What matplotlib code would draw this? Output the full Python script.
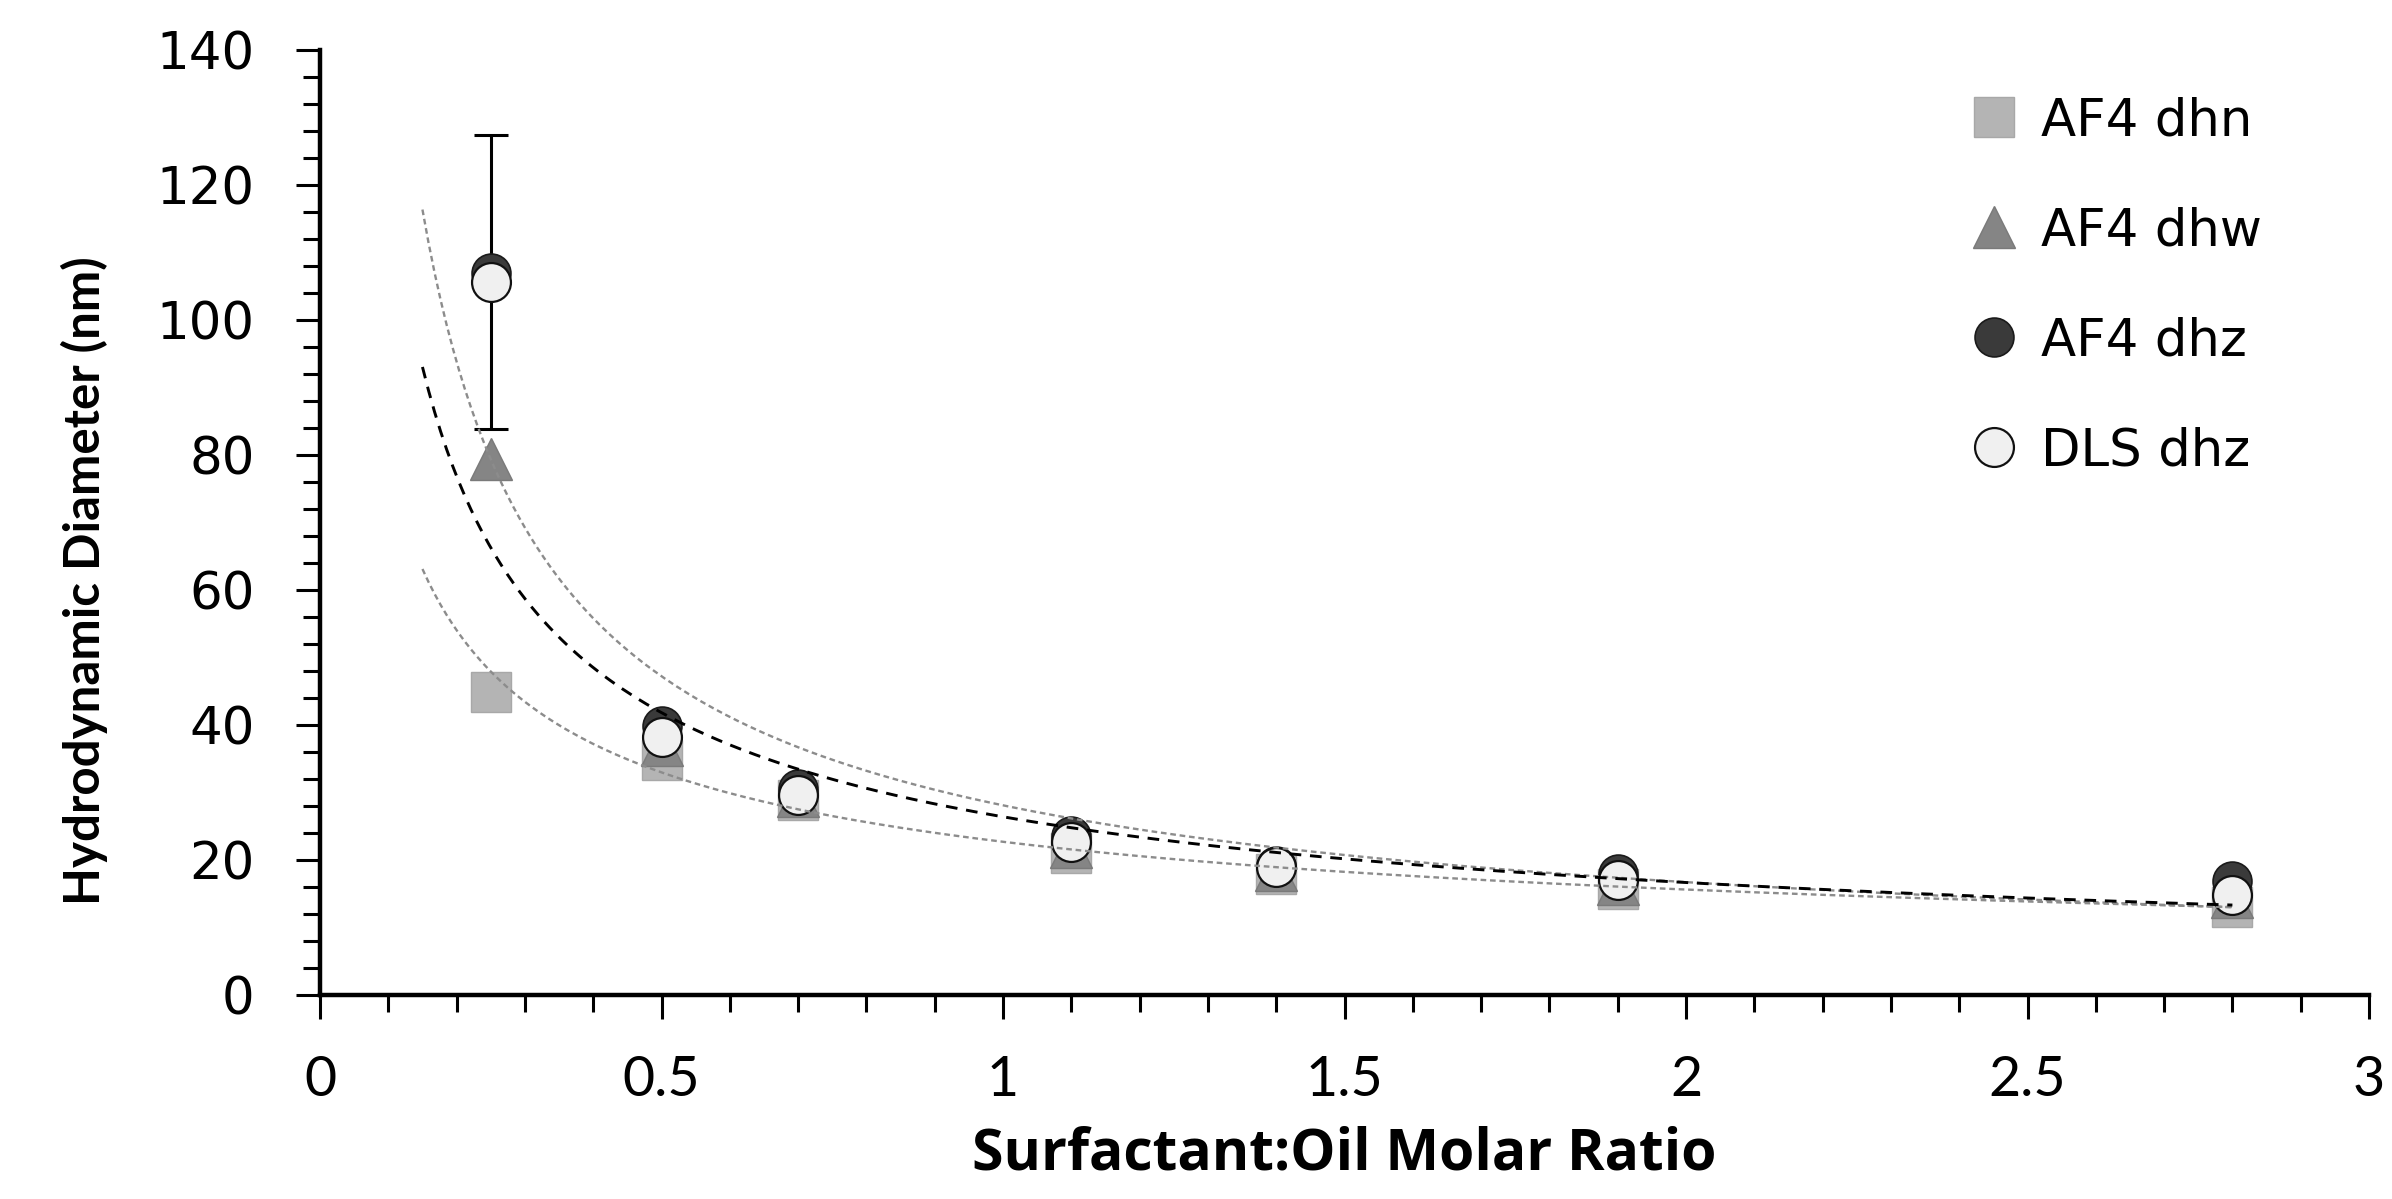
import numpy as np
import matplotlib
matplotlib.use("Agg")
import matplotlib.pyplot as plt
from matplotlib import font_manager as fm
from matplotlib.ticker import MultipleLocator, FixedLocator

# ---------------- data ----------------
ratio = [0.25, 0.5, 0.7, 1.1, 1.4, 1.9, 2.8]
af4_dhn = [44.9, 34.8, 28.9, 21.0, 17.9, 15.7, 13.0]
af4_dhw = [79.4, 37.0, 29.5, 22.0, 18.5, 16.5, 14.5]
af4_dhz = [106.9, 39.9, 30.5, 23.6, 19.1, 17.9, 16.9]
dls_dhz = [105.7, 38.2, 29.6, 22.7, 19.0, 17.0, 14.8]
dls_err_low = [21.9]      # at first point
dls_err_high = [21.7]

# power-law trend lines y = a * x**b
trend_x_range = [0.15, 2.8]
trend_dhw = [28.1, -0.749]
trend_dhz = [26.4, -0.664]
trend_dhn = [22.7, -0.539]

legend_labels = ["AF4 dhn", "AF4 dhw", "AF4 dhz", "DLS dhz"]
x_ticks = [0, 0.5, 1, 1.5, 2, 2.5, 3]
x_tick_labels = ["0", "0.5", "1", "1.5", "2", "2.5", "3"]
y_ticks = [0, 20, 40, 60, 80, 100, 120, 140]

# ---------------- fonts ----------------
names = {f.name for f in fm.fontManager.ttflist}
def pick(*cands):
    for c in cands:
        if c in names:
            return c
    return "DejaVu Sans"
humanist = pick("Lato", "Open Sans", "DejaVu Sans")
wide_bold = pick("Open Sans", "Lato", "DejaVu Sans")

W, H = 2392, 1199
fig = plt.figure(figsize=(W / 100, H / 100), dpi=100)
L, R, B, T = 320, 2369, 995, 50
ax = fig.add_axes([L / W, 1 - B / H, (R - L) / W, (B - T) / H])

ms = 28
ax.plot(ratio, af4_dhn, linestyle="none", marker="s", markersize=29,
        markerfacecolor="#b4b4b4", markeredgecolor="#a8a8a8", markeredgewidth=1,
        label=legend_labels[0], zorder=3)
ax.plot(ratio, af4_dhw, linestyle="none", marker="^", markersize=30,
        markerfacecolor="#858585", markeredgecolor="#7a7a7a", markeredgewidth=1,
        label=legend_labels[1], zorder=3.1)
ax.errorbar(ratio[:1], dls_dhz[:1], yerr=[dls_err_low, dls_err_high], fmt="none",
            ecolor="black", elinewidth=2.2, capsize=12, capthick=2.2, zorder=3.2)
ax.plot(ratio, af4_dhz, linestyle="none", marker="o", markersize=ms,
        markerfacecolor="#3a3a3a", markeredgecolor="#1a1a1a", markeredgewidth=1.2,
        label=legend_labels[2], zorder=3.3)
ax.plot(ratio, dls_dhz, linestyle="none", marker="o", markersize=ms,
        markerfacecolor="#f0f0f0", markeredgecolor="#111111", markeredgewidth=1.6,
        label=legend_labels[3], zorder=3.4)

xt = np.linspace(trend_x_range[0], trend_x_range[1], 300)
ax.plot(xt, trend_dhw[0] * xt ** trend_dhw[1], color="#8c8c8c", lw=1.7,
        dashes=(2.4, 1.6), zorder=4)
ax.plot(xt, trend_dhn[0] * xt ** trend_dhn[1], color="#8c8c8c", lw=1.7,
        dashes=(2.4, 1.6), zorder=4)
ax.plot(xt, trend_dhz[0] * xt ** trend_dhz[1], color="#000000", lw=2.1,
        dashes=(4.0, 3.0), zorder=4.1)

ax.set_xlim(0, 3)
ax.set_ylim(0, 140)
for s in ["top", "right"]:
    ax.spines[s].set_visible(False)
for s in ["left", "bottom"]:
    ax.spines[s].set_linewidth(3.2)
    ax.spines[s].set_color("black")

ax.xaxis.set_major_locator(FixedLocator(x_ticks))
ax.set_xticklabels(x_tick_labels)
ax.xaxis.set_minor_locator(MultipleLocator(0.1))
ax.yaxis.set_major_locator(FixedLocator(y_ticks))
ax.yaxis.set_minor_locator(MultipleLocator(4))

ax.tick_params(axis="both", which="major", direction="out", length=17, width=2.2, color="black")
ax.tick_params(axis="both", which="minor", direction="out", length=12, width=2.2, color="black")
ax.tick_params(axis="x", which="major", pad=26)
ax.tick_params(axis="y", which="major", pad=30)
for lab in ax.get_xticklabels():
    lab.set_fontfamily(humanist)
    lab.set_fontsize(40)
for lab in ax.get_yticklabels():
    lab.set_fontfamily("DejaVu Sans")
    lab.set_fontsize(37)

ax.set_xlabel("Surfactant:Oil Molar Ratio", fontfamily=wide_bold, fontweight="bold",
              fontsize=41, va="center")
ax.xaxis.set_label_coords(0.5, (B - 1155) / (B - T))
ax.set_ylabel("Hydrodynamic Diameter (nm)", fontfamily=humanist, fontweight="bold",
              fontsize=35.5, va="center")
ax.yaxis.set_label_coords((84 - L) / (R - L), (B - 581) / (B - T))

leg = ax.legend(loc="upper left", bbox_to_anchor=(1968 / W, 1 - 96 / H),
                bbox_transform=fig.transFigure, frameon=False, borderpad=0,
                borderaxespad=0, handlelength=1.0, handletextpad=0.42,
                labelspacing=1.17, prop={"family": "DejaVu Sans", "size": 37})

fig.savefig("out.png", dpi=100)
